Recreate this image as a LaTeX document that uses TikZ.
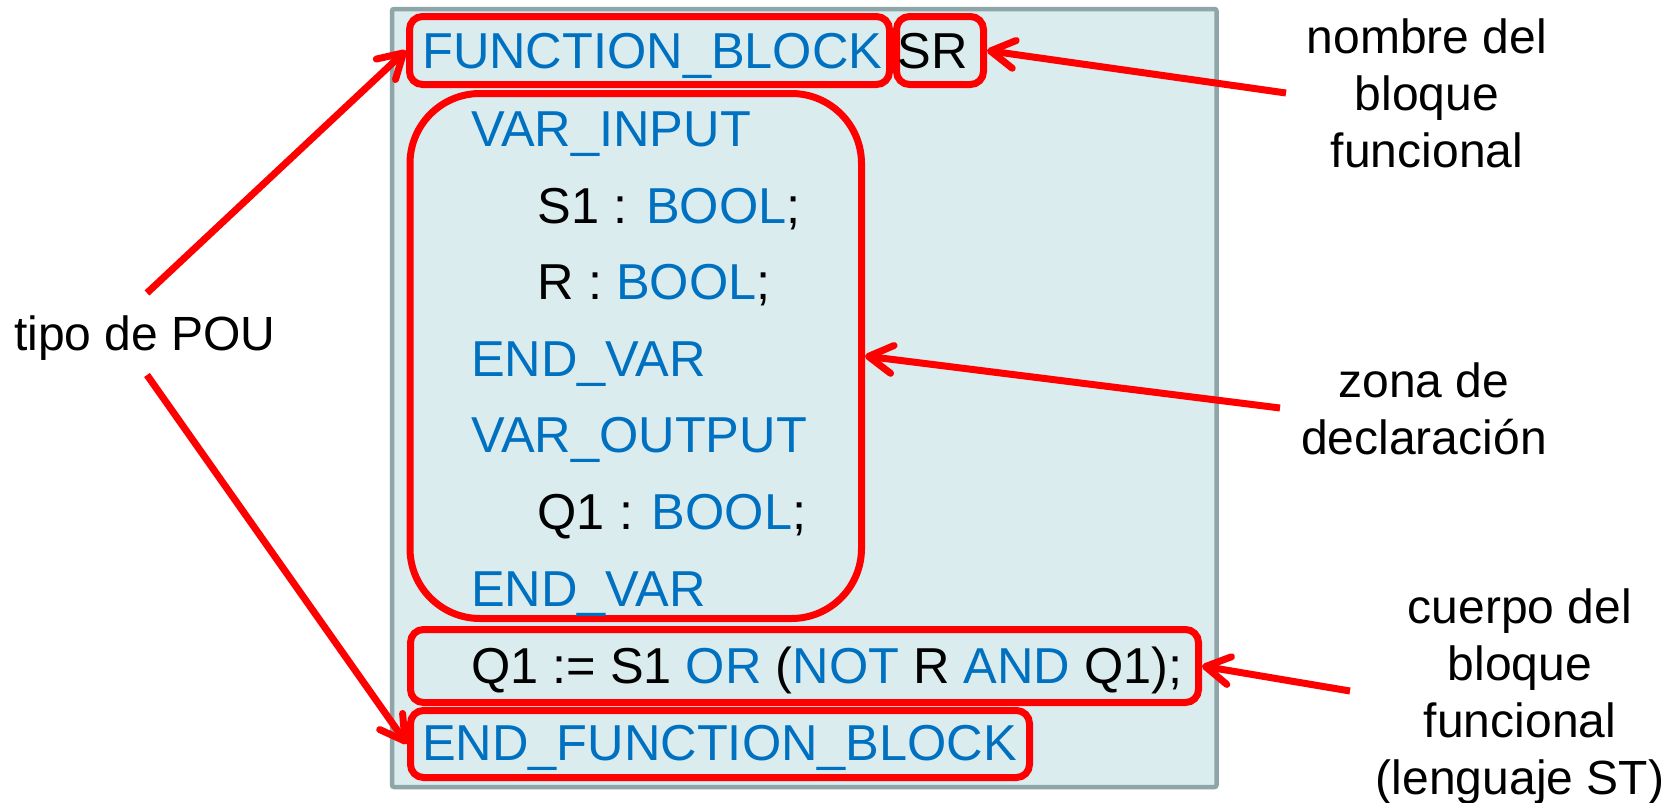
\documentclass[tikz,border=0pt]{standalone}
\usepackage{fontspec}
\setmainfont{Liberation Sans}
\usetikzlibrary{arrows.meta}
\definecolor{codeblue}{RGB}{0,112,192}
\definecolor{panelfill}{RGB}{219,236,239}
\definecolor{panelline}{RGB}{143,166,168}
\definecolor{markred}{RGB}{255,0,0}

\begin{document}
\begin{tikzpicture}[x=1pt,y=-1pt,
  code/.style={anchor=base west,inner sep=0pt,font=\fontsize{50.5}{60}\selectfont},
  lbl/.style={anchor=base,inner sep=0pt,font=\fontsize{48}{57}\selectfont},
  hilite/.style={draw=markred,line width=7pt,rounded corners=13pt,inner sep=0pt},
  pointer/.style={draw=markred,line width=7pt,-{Straight Barb[length=24pt,width=28pt,round]}}
]
\useasboundingbox (0,0) rectangle (1674,803);
\fill[white] (0,0) rectangle (1674,803);

% source panel
\draw[panelline,fill=panelfill,line width=4.5pt,rounded corners=2pt] (392,9) rectangle (1216.5,787);

% highlight frames
\node[hilite,minimum width=480pt,minimum height=68pt] (fb) at (649.5,50.5) {};
\node[hilite,minimum width=87pt,minimum height=68pt] (sr) at (940,50.5) {};
\node[hilite,minimum width=451.5pt,minimum height=525pt,rounded corners=70pt] (decl) at (635.75,356) {};
\node[hilite,minimum width=788pt,minimum height=73pt] (body) at (804.5,666) {};
\node[hilite,minimum width=619pt,minimum height=67pt] (efb) at (720,744) {};

% Structured Text source
\node[code,text=codeblue] (l0) at (422,68) {FUNCTION\_BLOCK};
\node[code] (l0b) at (897.5,68) {SR};
\node[code,text=codeblue] (l1) at (471,146) {VAR\_INPUT};
\node[code] (l2) at (537.5,223) {S1 : \textcolor{codeblue}{BOOL};};
\node[code] (l3) at (537.5,299) {R : \textcolor{codeblue}{BOOL};};
\node[code,text=codeblue] (l4) at (471,376) {END\_VAR};
\node[code,text=codeblue] (l5) at (471,452) {VAR\_OUTPUT};
\node[code] (l6) at (537.5,529) {Q1 : \textcolor{codeblue}{BOOL};};
\node[code,text=codeblue] (l7) at (471,606) {END\_VAR};
\node[code] (l8) at (471,683) {Q1 := S1 \textcolor{codeblue}{OR} (\textcolor{codeblue}{NOT} R \textcolor{codeblue}{AND} Q1);};
\node[code,text=codeblue] (l9) at (422,760) {END\_FUNCTION\_BLOCK};

% annotations
\node[lbl,anchor=base west] (tipo) at (14,350) {tipo de POU};
\node[lbl] (nb1) at (1427,53) {nombre del};
\node[lbl] (nb2) at (1427,110) {bloque};
\node[lbl] (nb3) at (1427,167) {funcional};
\node[lbl] (zd1) at (1424,397) {zona de};
\node[lbl] (zd2) at (1424,454) {declaración};
\node[lbl] (cb1) at (1520,623) {cuerpo del};
\node[lbl] (cb2) at (1520,680) {bloque};
\node[lbl] (cb3) at (1520,737) {funcional};
\node[lbl] (cb4) at (1520,794) {(lenguaje ST)};

% pointer tails
\coordinate (tipoUp) at (147,293);
\coordinate (tipoDown) at (147,375);
\coordinate (nbTail) at (1286,93);
\coordinate (zdTail) at (1280,408);
\coordinate (cbTail) at (1350,691);

\draw[pointer] (tipoUp) -- (fb.west);
\draw[pointer] (tipoDown) -- (efb.west);
\draw[pointer] (nbTail) -- (sr.east);
\draw[pointer] (zdTail) -- (decl.east);
\draw[pointer] (cbTail) -- (body.east);
\end{tikzpicture}
\end{document}
